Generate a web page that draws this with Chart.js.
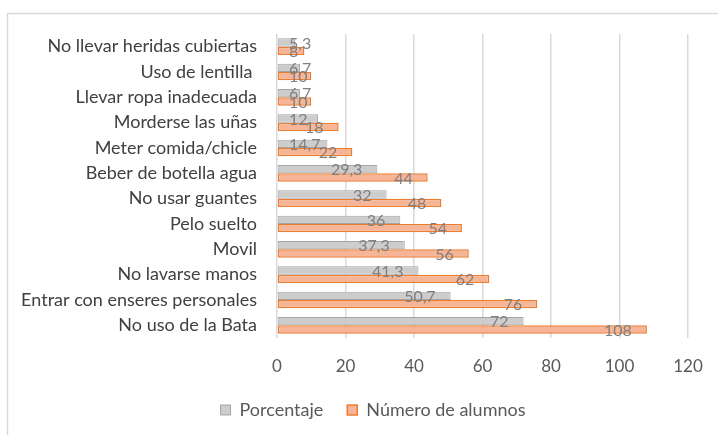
<!DOCTYPE html>
<html>
<head>
<meta charset="utf-8">
<script src="https://cdn.jsdelivr.net/npm/chart.js@4.4.1/dist/chart.umd.min.js"></script>
<style>
  html, body { margin: 0; padding: 0; background: #fff; }
  #wrap { position: relative; width: 718px; height: 435px; }
</style>
</head>
<body>
<div id="wrap"><canvas id="myChart" width="718" height="435"></canvas></div>
<script>
// Categories, top to bottom
const categories = [
    'No llevar heridas cubiertas',
    'Uso de lentilla ',
    'Llevar ropa inadecuada',
    'Morderse las uñas',
    'Meter comida/chicle',
    'Beber de botella agua',
    'No usar guantes',
    'Pelo suelto',
    'Movil',
    'No lavarse manos',
    'Entrar con enseres personales',
    'No uso de la Bata'
];
// Series values
const porcentaje = [5.3, 6.7, 6.7, 12, 14.7, 29.3, 32, 36, 37.3, 41.3, 50.7, 72];
const numeroAlumnos = [8, 10, 10, 18, 22, 44, 48, 54, 56, 62, 76, 108];
// X axis ticks
const xTicks = [0, 20, 40, 60, 80, 100, 120];

const FONT = 'Lato, "Open Sans", sans-serif';

// Draws the outer frame (top and left edge only are visible)
const framePlugin = {
    id: 'frame',
    beforeDraw(chart) {
        const ctx = chart.ctx;
        ctx.save();
        ctx.strokeStyle = '#d9d9d9';
        ctx.lineWidth = 1.5;
        ctx.beginPath();
        ctx.moveTo(7.5, 435);
        ctx.lineTo(7.5, 13.5);
        ctx.lineTo(718, 13.5);
        ctx.stroke();
        ctx.restore();
    },
    // legend in the original sits a bit right of centre
    afterLayout(chart) {
        chart.legend.left += 24;
        chart.legend.right += 24;
    }
};

// Value labels drawn near the end of each bar, Excel style
const valueLabels = {
    id: 'valueLabels',
    afterDatasetsDraw(chart) {
        const ctx = chart.ctx;
        const left = chart.chartArea.left;
        ctx.save();
        ctx.font = '16px ' + FONT;
        ctx.fillStyle = '#7f7f7f';
        ctx.textBaseline = 'middle';
        ctx.textAlign = 'left';
        chart.data.datasets.forEach((ds, i) => {
            const meta = chart.getDatasetMeta(i);
            meta.data.forEach((bar, j) => {
                const txt = String(ds.data[j]).replace('.', ',');
                const w = ctx.measureText(txt).width;
                let right = Math.max(bar.x - 15, left + w + 12);
                ctx.fillText(txt, right - w, bar.y + 1);
            });
        });
        ctx.restore();
    }
};

const ctx = document.getElementById('myChart');
new Chart(ctx, {
    type: 'bar',
    data: {
        labels: categories,
        datasets: [{
            label: 'Porcentaje',
            data: porcentaje,
            backgroundColor: '#cdcdcd',
            borderColor: '#a5a5a5',
            borderWidth: 1,
            borderSkipped: false
        }, {
            label: 'Número de alumnos',
            data: numeroAlumnos,
            backgroundColor: '#f5b596',
            borderColor: '#ed7d31',
            borderWidth: 1.5,
            borderSkipped: false
        }]
    },
    options: {
        indexAxis: 'y',
        responsive: false,
        animation: false,
        layout: { padding: { top: 34, right: 30, left: 10, bottom: 6 } },
        datasets: {
            bar: { categoryPercentage: 0.66, barPercentage: 1 }
        },
        scales: {
            x: {
                min: 0,
                max: 120,
                afterBuildTicks(scale) {
                    scale.ticks = xTicks.map(v => ({ value: v }));
                },
                afterFit(scale) {
                    scale.height = 39;
                    scale.paddingRight = 0;
                },
                ticks: {
                    color: '#595959',
                    font: { family: FONT, size: 17 },
                    padding: 18
                },
                grid: { color: '#d9d9d9', lineWidth: 1.5, drawTicks: false },
                border: { display: false }
            },
            y: {
                afterFit(scale) { scale.width = 267; },
                ticks: {
                    color: '#404040',
                    font: { family: FONT, size: 18 },
                    padding: 12
                },
                grid: { display: false },
                border: { display: false }
            }
        },
        plugins: {
            legend: {
                position: 'bottom',
                labels: {
                    color: '#595959',
                    font: { family: FONT, size: 18 },
                    boxWidth: 10,
                    boxHeight: 10,
                    padding: 24
                }
            },
            tooltip: { enabled: false }
        }
    },
    plugins: [framePlugin, valueLabels]
});
</script>
</body>
</html>
